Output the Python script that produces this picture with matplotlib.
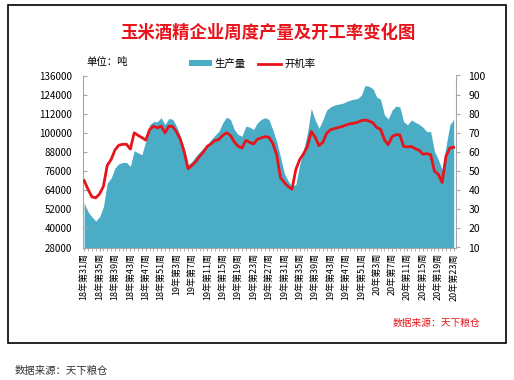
import matplotlib
matplotlib.use("Agg")
import matplotlib.pyplot as plt
from matplotlib.patches import Rectangle, Patch
from matplotlib.lines import Line2D

plt.rcParams['font.family'] = ['Noto Sans CJK SC', 'DejaVu Sans']

# 周度产量（吨），18年第31周 ~ 20年第23周
produccion = [
    56000, 50500, 47300, 44600, 47300, 53600, 68400, 71600, 77900, 80600,
    81400, 81400, 78900, 88800, 87400, 86300, 94700, 105200, 107000, 107000,
    109500, 105200, 109000, 108500, 104000, 98000, 90500, 80000, 82000, 85300,
    88000, 90500, 92600, 95800, 98500, 101000, 106300, 109900, 108400, 102100,
    98900, 97900, 104200, 103600, 102100, 106300, 108400, 109500, 108400, 101900,
    94600, 84900, 74500, 69800, 66300, 67700, 80100, 89400, 99800, 115300,
    108100, 102900, 108100, 114300, 116300, 117400, 118000, 118400, 119500, 120500,
    121100, 121500, 123600, 129800, 129200, 127700, 122500, 121100, 111200, 108700,
    114300, 116800, 116300, 107000, 105000, 108100, 106600, 105400, 103500, 100800,
    100800, 88400, 83200, 77000, 91500, 105000, 108500,
]

# 开机率（%）
kaijilv = [
    45, 40.5, 36.5, 36, 38, 42, 53, 56, 61, 63.5,
    64, 64, 61.5, 70, 68.7, 67.5, 66.2, 71.6, 73.5, 72.6,
    73.5, 70, 73.5, 73.3, 70.5, 66.5, 60, 51.2, 53, 55,
    57.7, 60, 63, 64.3, 66, 66.5, 68.7, 70, 68.7, 65.2,
    63, 62, 66.1, 65, 64.2, 66.6, 67.4, 68, 67.7, 64.5,
    58.6, 46.6, 44, 41.9, 40.5, 50.9, 56, 59.1, 62.9, 70.7,
    67.8, 63.3, 65, 69.8, 71.6, 72.2, 72.8, 73.3, 74.1, 74.7,
    75, 75.5, 76.4, 76.7, 76.2, 75.3, 72.8, 71.9, 66.4, 63.8,
    68.1, 69, 69, 62.9, 62.6, 62.9, 61.7, 60.9, 58.8, 59.1,
    58.6, 50, 48.3, 44, 57.8, 62.1, 62.4,
]

etiquetas = [
    "18年第31周", "18年第35周", "18年第39周", "18年第43周", "18年第47周",
    "18年第51周", "19年第3周", "19年第7周", "19年第11周", "19年第15周",
    "19年第19周", "19年第23周", "19年第27周", "19年第31周", "19年第35周",
    "19年第39周", "19年第43周", "19年第47周", "19年第51周", "20年第3周",
    "20年第7周", "20年第11周", "20年第15周", "20年第19周", "20年第23周",
]

azul = "#4BACC6"
rojo = "#E8141B"
gris = "#A6A6A6"

fig = plt.figure(figsize=(5.14, 3.80), dpi=100)
fig.patches.append(Rectangle((8 / 514, 1 - 343 / 380), 498 / 514, 338 / 380,
                             transform=fig.transFigure, fill=False,
                             edgecolor="black", linewidth=1.2))

ax = fig.add_axes([83 / 514, 1 - 247.5 / 380, 373 / 514, 172 / 380])
x = list(range(len(produccion)))
ax.fill_between(x, 28000, produccion, color=azul, linewidth=0)
ax.set_ylim(28000, 136000)
ax.set_yticks(range(28000, 136001, 12000))
ax.set_xlim(-0.3, len(produccion) - 0.4)
ax.set_xticks(x[::4])
ax.set_xticklabels(etiquetas, rotation=90, fontsize=6.5)
ax.set_xticks(x, minor=True)
ax.tick_params(axis="x", which="both", length=2, color=gris, pad=2)
ax.tick_params(axis="y", direction="in", length=3, color=gris, labelsize=7, pad=8)
for s in ["top", "right"]:
    ax.spines[s].set_visible(False)
for s in ["left", "bottom"]:
    ax.spines[s].set_color(gris)

ax2 = ax.twinx()
ax2.plot(x, kaijilv, color=rojo, linewidth=2)
ax2.set_ylim(10, 100)
ax2.set_yticks(range(10, 101, 10))
ax2.tick_params(axis="y", direction="out", length=3, color=gris, labelsize=7.5, pad=6)
for s in ["top", "left", "bottom"]:
    ax2.spines[s].set_visible(False)
ax2.spines["right"].set_color(gris)

fig.text(268 / 514, 1 - 33 / 380, "玉米酒精企业周度产量及开工率变化图", color=rojo,
         fontsize=12.5, fontweight="bold", ha="center", va="center")
fig.text(86 / 514, 1 - 62 / 380, "单位：吨", fontsize=7.5, ha="left", va="center")

handles = [Patch(facecolor=azul, edgecolor="none"),
           Line2D([0], [0], color=rojo, linewidth=2)]
fig.legend(handles, ["生产量", "开机率"], loc="center", bbox_to_anchor=(252 / 514, 1 - 64 / 380),
           ncol=2, frameon=False, fontsize=7.5, handlelength=2.2, handleheight=0.5,
           columnspacing=1.2, handletextpad=0.3)

fig.text(480 / 514, 1 - 323 / 380, "数据来源：天下粮仓", color=rojo, fontsize=7,
         style="italic", ha="right", va="center")
fig.text(15 / 514, 1 - 371 / 380, "数据来源：天下粮仓", color="#333333", fontsize=7.5,
         ha="left", va="center")

fig.savefig("out.png", dpi=100)
